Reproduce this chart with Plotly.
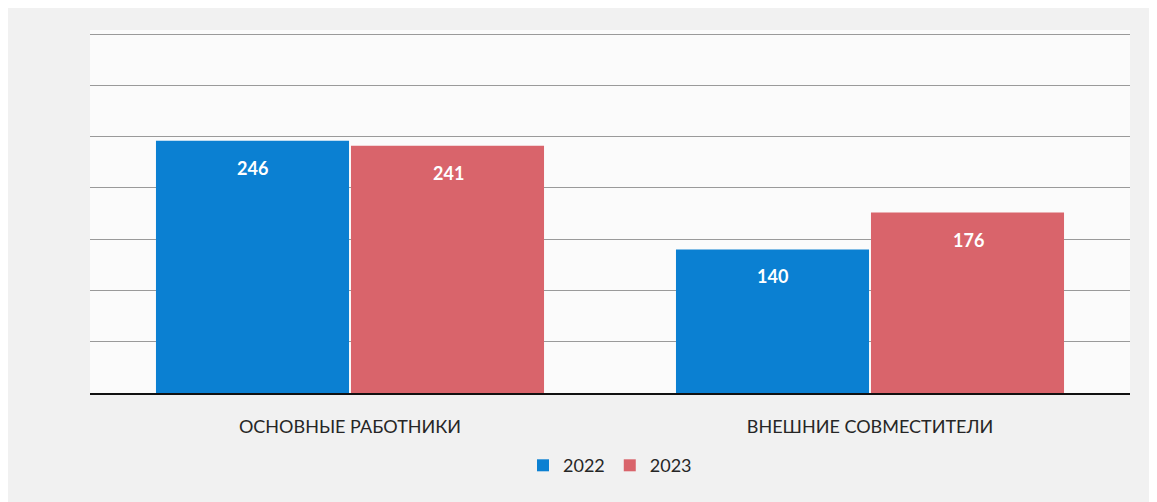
import plotly.graph_objects as go

categories = ["ОСНОВНЫЕ РАБОТНИКИ", "ВНЕШНИЕ СОВМЕСТИТЕЛИ"]
series_names = ["2022", "2023"]
values_2022 = [246, 140]
values_2023 = [241, 176]
colors = ["#0b80d2", "#d9646b"]

fig = go.Figure()
all_series = [values_2022, values_2023]
for name, vals, col in zip(series_names, all_series, colors):
    fig.add_trace(go.Bar(
        x=categories, y=vals, name=name,
        marker=dict(color=col, line=dict(width=0)),
        hoverinfo="x+y",
    ))

# data labels inside the top of each bar
shifts = [-98, 98]
for vals, xs in zip(all_series, shifts):
    for cat, v in zip(categories, vals):
        fig.add_annotation(
            x=cat, y=v, xref="x", yref="y", text=str(v), showarrow=False,
            xshift=xs, yshift=-27, yanchor="middle",
            font=dict(color="white", size=18, family="Lato", weight="bold"),
        )

fig.update_layout(
    width=1157, height=502,
    margin=dict(l=82, r=35, t=22, b=117),
    barmode="group", bargap=0.25, bargroupgap=0.01,
    paper_bgcolor="#f1f1f1", plot_bgcolor="#fbfbfb",
    font=dict(family="Lato", size=17, color="#262626"),
    showlegend=True,
    legend=dict(orientation="h", x=0.5, xanchor="center", y=-0.2, yanchor="middle",
                font=dict(size=18, color="#262626"), itemwidth=30, traceorder="normal"),
    xaxis=dict(showline=True, linecolor="#111111", linewidth=2, ticks="outside",
               ticklen=16, tickcolor="rgba(0,0,0,0)", tickfont=dict(size=18, color="#262626")),
    yaxis=dict(range=[0, 354], dtick=50, showgrid=True, gridcolor="#9a9a9a", gridwidth=1,
               showticklabels=False, zeroline=False),
)

fig.write_html("out.html")
